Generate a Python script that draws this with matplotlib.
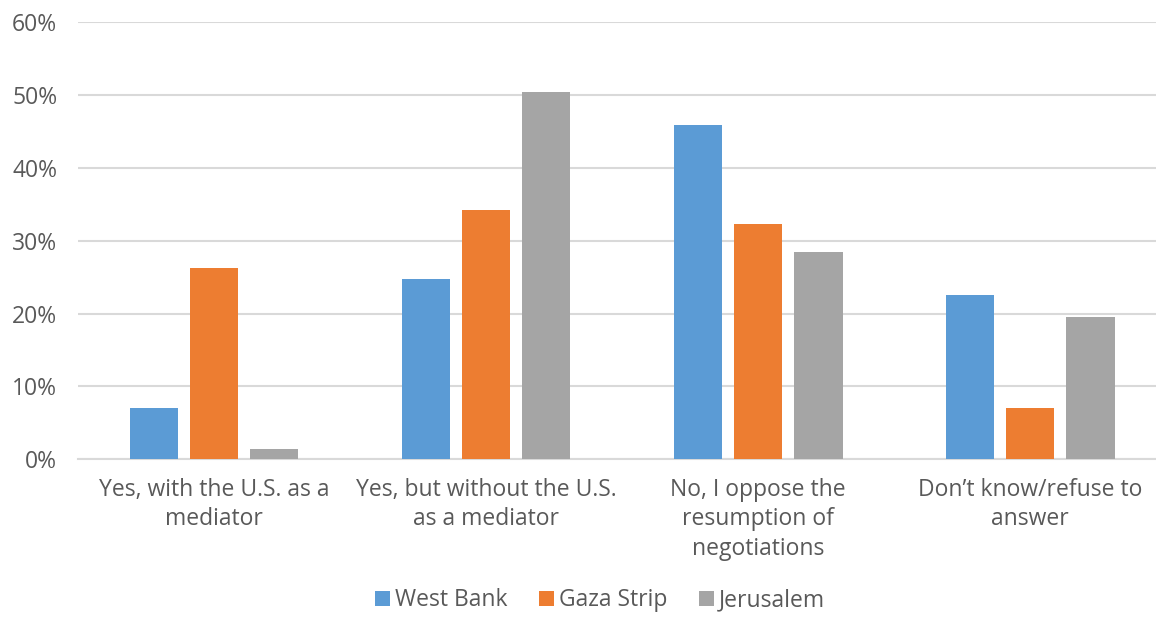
import numpy as np
import matplotlib.pyplot as plt

# Survey data (percent)
categories = ["Yes, with the U.S. as a\nmediator",
              "Yes, but without the U.S.\nas a mediator",
              "No, I oppose the\nresumption of\nnegotiations",
              "Don\u2019t know/refuse to\nanswer"]
west_bank = [7.0, 24.7, 45.8, 22.5]
gaza_strip = [26.3, 34.2, 32.2, 7.0]
jerusalem = [1.4, 50.4, 28.4, 19.5]
series_names = ["West Bank", "Gaza Strip", "Jerusalem"]
colors = ["#5B9BD5", "#ED7D31", "#A5A5A5"]

plt.rcParams['font.family'] = ['Open Sans', 'DejaVu Sans']
text_color = "#595959"

fig = plt.figure(figsize=(11.56, 6.17), dpi=100)
# plot area runs a little past the right edge, as in the reference
ax = fig.add_axes([0.0675, 0.2553, 0.9412, 0.7097])

x = np.arange(len(categories))
offset = 0.222
width = 0.177
for i, (vals, name) in enumerate(zip([west_bank, gaza_strip, jerusalem], series_names)):
    ax.bar(x + (i - 1) * offset, vals, width, color=colors[i], label=name, zorder=3)

ax.set_xlim(-0.5, len(categories) - 0.5)
ax.set_ylim(0, 60)
ax.set_yticks(range(0, 61, 10))
ax.set_yticklabels([f"{v}%" for v in range(0, 61, 10)])
ax.set_xticks(x)
ax.set_xticklabels(categories, linespacing=1.32)
ax.tick_params(axis='both', length=0, labelsize=16.5, colors=text_color)
ax.tick_params(axis='x', pad=13)
ax.tick_params(axis='y', pad=15)
ax.grid(axis='y', color="#D9D9D9", linewidth=1.5, zorder=0)
for s in ["top", "right", "left"]:
    ax.spines[s].set_visible(False)
ax.spines["bottom"].set_color("#D9D9D9")
ax.spines["bottom"].set_linewidth(1.5)

leg = fig.legend(loc='center', bbox_to_anchor=(0.519, 0.027), ncol=3, frameon=False,
                 fontsize=16.5, handlelength=0.65, handleheight=0.65, handletextpad=0.2,
                 columnspacing=1.4)
for t in leg.get_texts():
    t.set_color(text_color)

fig.savefig("out.png", dpi=100)
